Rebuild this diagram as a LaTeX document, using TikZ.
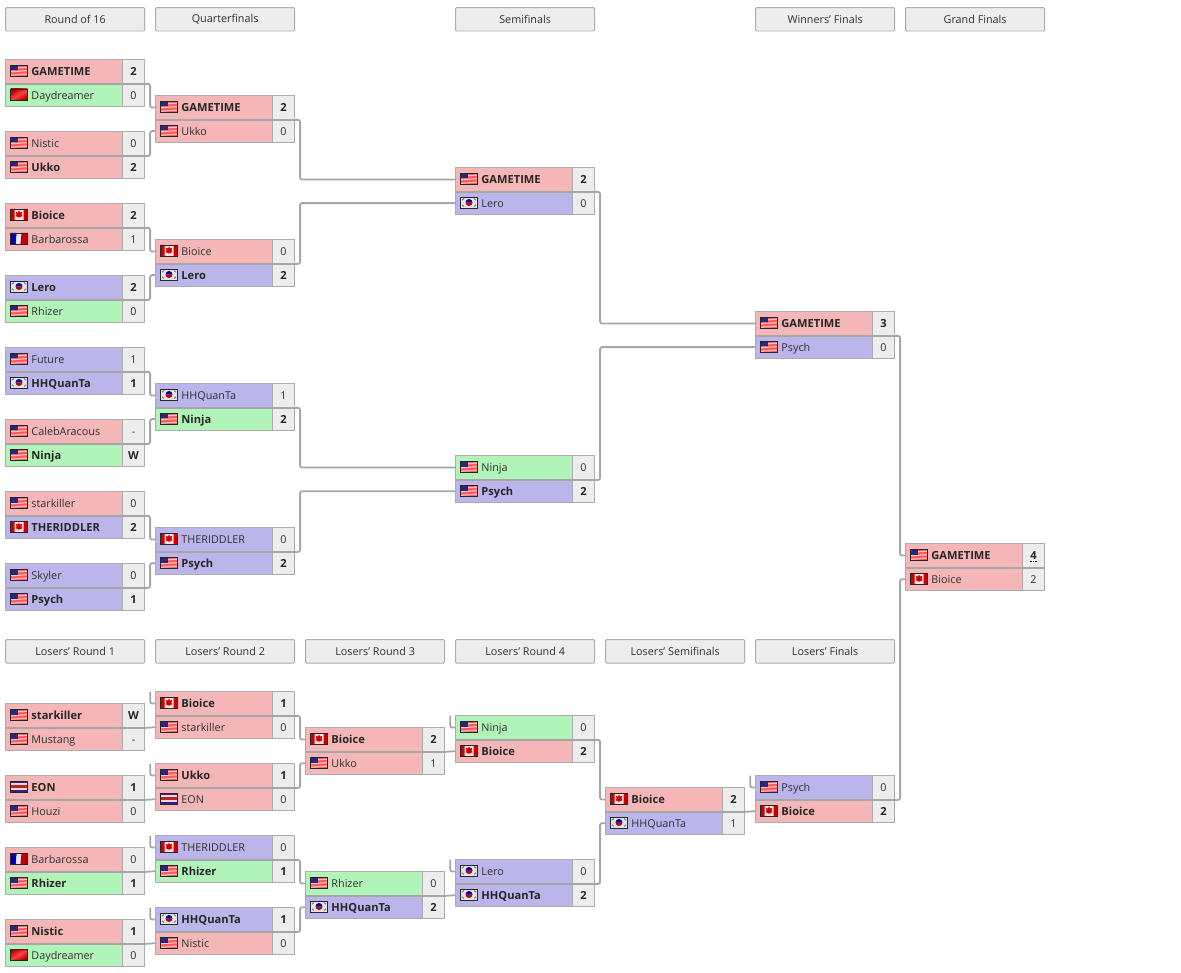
\documentclass[tikz,border=0pt]{standalone}
\usepackage{fontspec}
\setmainfont{Open Sans}
\usetikzlibrary{arrows.meta,positioning,calc}
\definecolor{brd}{HTML}{F4B6B6}
\definecolor{bgn}{HTML}{B1F4B9}
\definecolor{bpu}{HTML}{BCB5EB}
\definecolor{bsc}{HTML}{EDEDED}
\definecolor{bedge}{HTML}{ADADAD}
\definecolor{bline}{HTML}{A6A6A6}
\definecolor{btxt}{HTML}{303030}
\tikzset{
  x=1pt,y=-1pt,
  hdr/.style={draw=bedge,fill=bsc,rounded corners=1pt,line width=0.9pt,minimum width=139pt,minimum height=23.4pt,inner sep=0pt,anchor=north west,font=\fontsize{10.8}{12}\selectfont,text=btxt},
  row/.style={draw=bedge,line width=0.9pt,minimum width=116.8pt,text width=116.8pt,minimum height=23.8pt,inner sep=0pt,anchor=north west,align=left,font=\fontsize{10.8}{12}\selectfont,text=btxt,text height=8.5pt,text depth=1.5pt},
  sco/.style={draw=bedge,fill=bsc,line width=0.9pt,minimum width=22.2pt,minimum height=23.8pt,inner sep=0pt,anchor=north west,font=\fontsize{10.8}{12}\selectfont,text=btxt,text height=8.5pt,text depth=1.5pt},
  lowrow/.style={minimum height=23.4pt,text depth=0pt},
  brk/.style={draw=bline,line width=1.8pt,rounded corners=2pt},
  seam/.style={draw=bline,line width=1.5pt},
  flagus/.pic={
    \fill[red!65!white] (0,0) rectangle (17,11);
    \foreach \s in {3,6.5,10} { \fill[white!75!red] (0,\s-0.3) -- (17,\s-1.5) -- (17,\s-0.3) -- (0,\s+0.9) -- cycle; }
    \fill[blue!45!black!85!white] (0,0) rectangle (7,5.5);
    \draw[black!85,line width=0.8pt] (0,0) rectangle (17,11);
  },
  flagca/.pic={
    \fill[white!88!red] (0,0) rectangle (17,11);
    \fill[red!80!black] (0,0) rectangle (4,11) (13,0) rectangle (17,11);
    \fill[red!80!black] (8.5,1.5) -- (9.5,3.5) -- (11.5,3) -- (11,6) -- (12,7) -- (9,8.5) -- (8,8.5) -- (5,7) -- (6,6) -- (5.5,3) -- (7.5,3.5) -- cycle;
    \draw[black!85,line width=0.8pt] (0,0) rectangle (17,11);
  },
  flagkr/.pic={
    \fill[white!90!black] (0,0) rectangle (17,11);
    \fill[red!75!black] (5,5.5) arc (180:360:3.5 and -3.5) -- cycle;
    \fill[blue!65!black] (5,5.5) arc (180:360:3.5 and 3.5) -- cycle;
    \draw[black!55,line width=0.9pt] (1.5,3.2) -- (3.5,1.5) (13.5,1.5) -- (15.5,3.2) (1.5,7.8) -- (3.5,9.5) (13.5,9.5) -- (15.5,7.8);
    \draw[black!85,line width=0.8pt] (0,0) rectangle (17,11);
  },
  flagfr/.pic={
    \fill[blue!70!black] (0,0) rectangle (6,11);
    \fill[white!90!blue] (6,0) -- (11,0) -- (10,11) -- (5,11) -- cycle;
    \fill[blue!70!black] (0,0) -- (6,0) -- (5,11) -- (0,11) -- cycle;
    \fill[red!75!black] (11,0) -- (17,0) -- (17,11) -- (10,11) -- cycle;
    \draw[black!85,line width=0.8pt] (0,0) rectangle (17,11);
  },
  flagcr/.pic={
    \fill[white!82!red] (0,0) rectangle (17,11);
    \fill[blue!45!black!85!white] (0,0) rectangle (17,1.8) (0,9.2) rectangle (17,11);
    \fill[red!65!black!85!white] (0,3.8) rectangle (17,7.2);
    \draw[black!85,line width=0.8pt] (0,0) rectangle (17,11);
  },
  flagcn/.pic={
    \shade[left color=red!70!black,right color=red!70!black,middle color=red!75!white,shading angle=30] (0,0) rectangle (17,11);
    \draw[black!85,line width=0.8pt] (0,0) rectangle (17,11);
  },
}
\newcommand{\bb}[1]{\fontsize{11.1}{12}\selectfont\textbf{\textcolor{black!85}{#1}}}
\begin{document}
\begin{tikzpicture}
  \useasboundingbox (0,0) rectangle (1181,973);
  % column titles
  \foreach \hx/\hy/\hname [count=\hn] in {5/7/Round of 16,155/7/Quarterfinals,455/7/Semifinals,755/7/Winners' Finals,905/7/Grand Finals,
    5/639/Losers' Round 1,155/639/Losers' Round 2,305/639/Losers' Round 3,455/639/Losers' Round 4,605/639/Losers' Semifinals,755/639/Losers' Finals}
    { \node[hdr] (hd\hn) at (\hx+0.2,\hy+0.2) {\hname}; }
  % matches
  \foreach \id/\mx/\my/\fA/\nA/\sA/\cA/\fB/\nB/\sB/\cB in {
    a1/5/59/us/\bb{GAMETIME}/\bb{2}/brd/cn/Daydreamer/0/bgn,
    a2/5/131/us/Nistic/0/brd/us/\bb{Ukko}/\bb{2}/brd,
    a3/5/203/ca/\bb{Bioice}/\bb{2}/brd/fr/Barbarossa/1/brd,
    a4/5/275/kr/\bb{Lero}/\bb{2}/bpu/us/Rhizer/0/bgn,
    a5/5/347/us/Future/1/bpu/kr/\bb{HHQuanTa}/\bb{1}/bpu,
    a6/5/419/us/CalebAracous/-/brd/us/\bb{Ninja}/\bb{W}/bgn,
    a7/5/491/us/starkiller/0/brd/ca/\bb{THERIDDLER}/\bb{2}/bpu,
    a8/5/563/us/Skyler/0/bpu/us/\bb{Psych}/\bb{1}/bpu,
    b1/155/95/us/\bb{GAMETIME}/\bb{2}/brd/us/Ukko/0/brd,
    b2/155/239/ca/Bioice/0/brd/kr/\bb{Lero}/\bb{2}/bpu,
    b3/155/383/kr/HHQuanTa/1/bpu/us/\bb{Ninja}/\bb{2}/bgn,
    b4/155/527/ca/THERIDDLER/0/bpu/us/\bb{Psych}/\bb{2}/bpu,
    c1/455/167/us/\bb{GAMETIME}/\bb{2}/brd/kr/Lero/0/bpu,
    c2/455/455/us/Ninja/0/bgn/us/\bb{Psych}/\bb{2}/bpu,
    d1/755/311/us/\bb{GAMETIME}/\bb{3}/brd/us/Psych/0/bpu,
    e1/905/543/us/\bb{GAMETIME}/\bb{4}/brd/ca/Bioice/2/brd,
    f1/5/703/us/\bb{starkiller}/\bb{W}/brd/us/Mustang/-/brd,
    f2/5/775/cr/\bb{EON}/\bb{1}/brd/us/Houzi/0/brd,
    f3/5/847/fr/Barbarossa/0/brd/us/\bb{Rhizer}/\bb{1}/bgn,
    f4/5/919/us/\bb{Nistic}/\bb{1}/brd/cn/Daydreamer/0/bgn,
    g1/155/691/ca/\bb{Bioice}/\bb{1}/brd/us/starkiller/0/brd,
    g2/155/763/us/\bb{Ukko}/\bb{1}/brd/cr/EON/0/brd,
    g3/155/835/ca/THERIDDLER/0/bpu/us/\bb{Rhizer}/\bb{1}/bgn,
    g4/155/907/kr/\bb{HHQuanTa}/\bb{1}/bpu/us/Nistic/0/brd,
    h1/305/727/ca/\bb{Bioice}/\bb{2}/brd/us/Ukko/1/brd,
    h2/305/871/us/Rhizer/0/bgn/kr/\bb{HHQuanTa}/\bb{2}/bpu,
    i1/455/715/us/Ninja/0/bgn/ca/\bb{Bioice}/\bb{2}/brd,
    i2/455/859/kr/Lero/0/bpu/kr/\bb{HHQuanTa}/\bb{2}/bpu,
    j1/605/787/ca/\bb{Bioice}/\bb{2}/brd/kr/HHQuanTa/1/bpu,
    k1/755/775/us/Psych/0/bpu/ca/\bb{Bioice}/\bb{2}/brd}
  {
    \node[row,fill=\cA] (\id-a) at (\mx+0.2,\my+0.2) {\hspace*{25.8pt}\nA};
    \node[sco] (\id-as) at (\mx+117,\my+0.2) {\sA};
    \node[row,lowrow,fill=\cB] (\id-b) at (\mx+0.2,\my+24) {\hspace*{25.8pt}\nB};
    \node[sco,lowrow] (\id-bs) at (\mx+117,\my+24) {\sB};
    \pic at (\mx+5.5,\my+6) {flag\fA};
    \pic at (\mx+5.5,\my+30) {flag\fB};
    \draw[seam] (\id-a.south west) -- (\id-as.south east) coordinate (\id);
  }
  % dotted mark under the final score
  \draw[black,densely dotted,line width=0.7pt] ($(e1-as.center)+(-4,6)$) -- ($(e1-as.center)+(4,6)$);
  % bends between rounds
  \foreach \from/\to in {a1/b1-a,a2/b1-b,a3/b2-a,a4/b2-b,a5/b3-a,a6/b3-b,a7/b4-a,a8/b4-b,
    b1/c1-a,b2/c1-b,b3/c2-a,b4/c2-b,c1/d1-a,c2/d1-b,d1/e1-a,k1/e1-b,
    g1/h1-a,g2/h1-b,g3/h2-a,g4/h2-b,i1/j1-a,i2/j1-b}
    { \draw[brk] (\from) -- ++(5,0) |- (\to.west); }
  % straight drops from the upper bracket
  \foreach \from/\to in {f1/g1-b,f2/g2-b,f3/g3-b,f4/g4-b,h1/i1-b,h2/i2-b,j1/k1-b}
    { \draw[brk] (\from) -- (\to.west); }
  \foreach \to in {g1-a,g2-a,g3-a,g4-a,i1-a,i2-a,k1-a}
    { \draw[brk] (\to.west) -| ++(-5,-12); }
\end{tikzpicture}
\end{document}
